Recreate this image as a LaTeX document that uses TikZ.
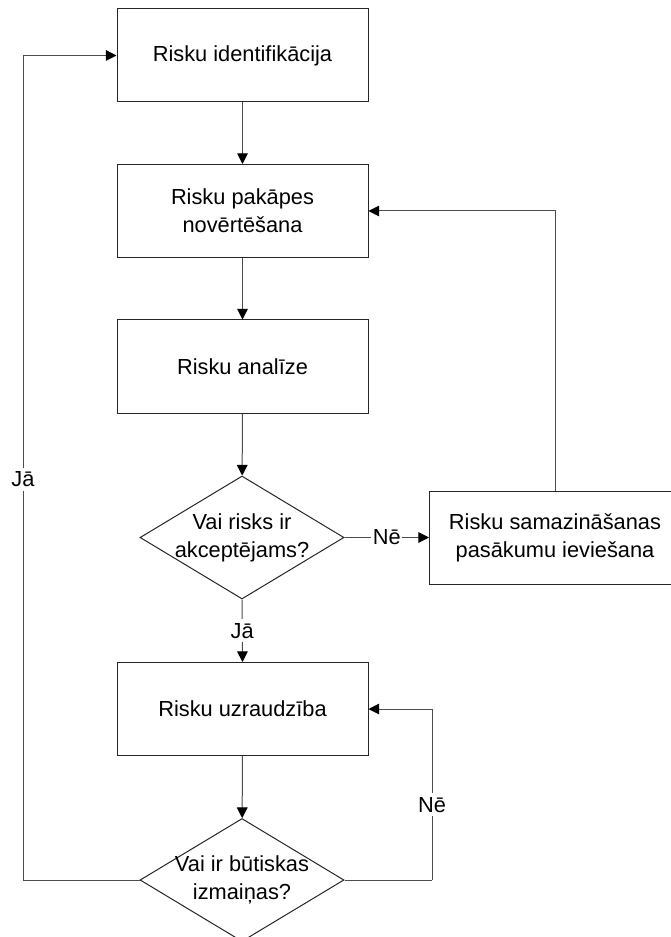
\documentclass[tikz,border=0pt]{standalone}
\usepackage{fontspec}
\setmainfont{Liberation Sans}
\usetikzlibrary{shapes.geometric,arrows.meta}
\begin{document}
\begin{tikzpicture}
        [x=0.75pt,y=-0.75pt,
        every node/.style={font=\fontsize{16.35}{20.8}\selectfont, align=center},
        box/.style={draw=black!85, line width=0.75pt, minimum width=188.25pt, minimum height=69.75pt, inner sep=0pt},
        decision/.style={draw=black!85, line width=0.75pt, diamond, minimum width=153pt, minimum height=92.25pt, inner sep=0pt},
        flow/.style={draw=black!70, line width=0.75pt, -{Triangle[length=8pt,width=8pt,color=black]}},
        plain/.style={draw=black!70, line width=0.75pt},
        answer/.style={fill=white, inner xsep=1pt, inner ysep=3pt}]
      \useasboundingbox (0,0) rectangle (670,937);
      \node[box] (ident) at (242.5,55.5) {Risku identifikācija};
      \node[box] (novert) at (242.5,211) {Risku pakāpes\\novērtēšana};
      \node[box] (anal) at (242.5,366.5) {Risku analīze};
      \node[decision] (acc) at (242,537.5) {};
      \node (acctext) at (acc) {Vai risks ir\\akceptējams?};
      \node[box] (samaz) at (555,537.5) {Risku samazināšanas\\pasākumu ieviešana};
      \node[box] (monit) at (242.5,709) {Risku uzraudzība};
      \node[decision] (chg) at (242,880) {};
      \node (chgtext) at (chg) {Vai ir būtiskas\\izmaiņas?};
      \coordinate (yesleft) at (23,880);
      \coordinate (noright) at (432,880);

      \foreach \from/\to in {ident/novert, novert/anal, anal/acc, monit/chg}
        \draw[flow] (\from) -- (\to);
      \draw[flow] (acc.east) -- node[answer] {Nē} (samaz.west);
      \draw[flow] (samaz.north) |- (novert.east);
      \draw[flow] (acc.south) -- node[answer] {Jā} (monit.north);
      \draw[plain] (chg.west) -- (yesleft);
      \draw[flow] (yesleft) |- node[answer, pos=0.243] {Jā} (ident.west);
      \draw[plain] (chg.east) -- (noright);
      \draw[flow] (noright) |- node[answer, pos=0.22] {Nē} (monit.east);
    \end{tikzpicture}
\end{document}
